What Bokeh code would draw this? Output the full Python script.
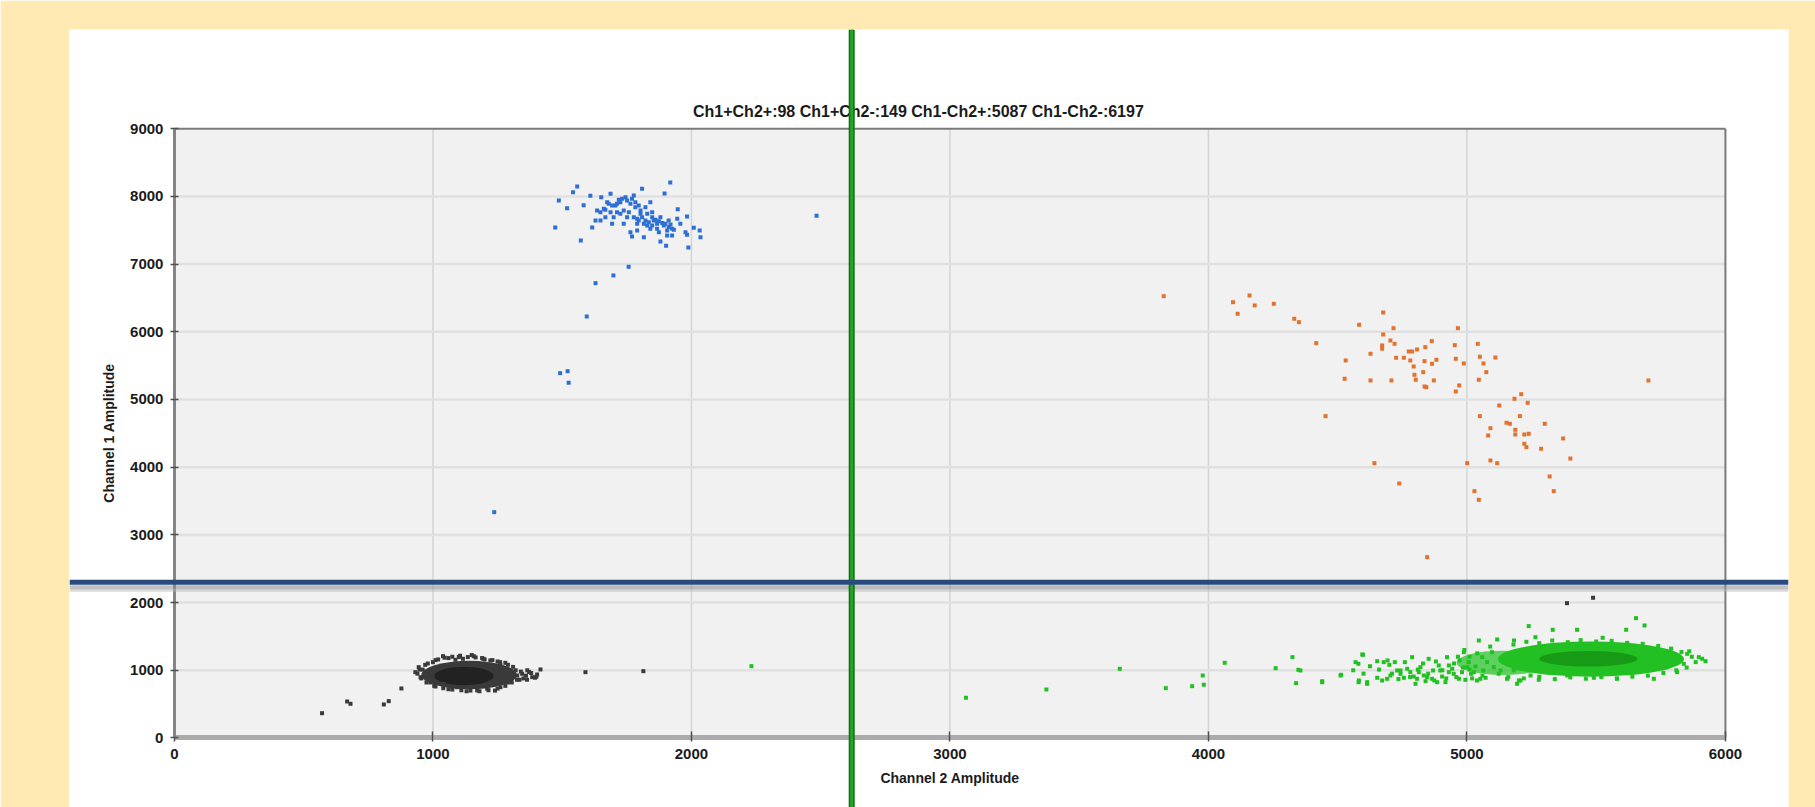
from bokeh.plotting import figure
from bokeh.models import LinearAxis, FixedTicker, Span, Label
from bokeh.embed import file_html
from bokeh.resources import INLINE

# ---------------- data ----------------
title_names = ["Ch1+Ch2+", "Ch1+Ch2-", "Ch1-Ch2+", "Ch1-Ch2-"]
title_counts = [98, 149, 5087, 6197]

x_ticks = [0, 1000, 2000, 3000, 4000, 5000, 6000]
y_ticks = [0, 1000, 2000, 3000, 4000, 5000, 6000, 7000, 8000, 9000]
x_limits = [0, 6000]
y_limits = [0, 9000]

ch1_threshold = 2300   # horizontal (Channel 1)
ch2_threshold = 2620   # vertical (Channel 2)

# Ch1+Ch2- (blue)
blue_ch2 = [1558, 1542, 1487, 1519, 1473, 1572, 1583, 1609, 1651, 1687, 1809, 1918, 1896, 1616, 1629,
            1635, 1693, 1706, 1725, 1745, 1777, 1764, 1783, 1725, 1751, 1790, 1764, 1770, 1790, 1816,
            1822, 1841, 1829, 1848, 1854, 1816, 1841, 1874, 1880, 1899, 1912, 1925, 1906, 1880, 1902,
            1947, 1983, 1945, 1957, 1977, 1983, 2009, 2032, 2035, 1988, 1757, 1698, 1629, 1595, 2484,
            1674, 1661, 1699, 1738, 1803, 1790, 1867, 1925,
            1648, 1667, 1680, 1693, 1712, 1719, 1732, 1751, 1770, 1783, 1796, 1803, 1809, 1822, 1835,
            1848, 1861, 1874, 1887, 1893, 1912, 1919, 1932, 1906, 1867, 1848, 1829, 1796, 1777, 1758,
            1738, 1712, 1687, 1667, 1648,
            1492, 1521, 1525, 1237]
blue_ch1 = [8146, 8062, 7939, 7826, 7541, 7349, 7870, 8009, 7988, 8038, 8112, 8205, 8043, 7541, 7644,
            7792, 7595, 7866, 7914, 7988, 8013, 7890, 7841, 7743, 7693, 7669, 7471, 7408, 7496, 7397,
            7841, 7914, 7743, 7767, 7644, 7595, 7521, 7471, 7693, 7595, 7644, 7521, 7422, 7334, 7270,
            7811, 7703, 7669, 7595, 7471, 7433, 7536, 7496, 7397, 7245, 6960, 6832, 6718, 6226, 7713,
            7914, 7817, 7693, 7595, 7743, 7595, 7595, 7422,
            7767, 7802, 7890, 7866, 7890, 7949, 7964, 7939, 7964, 7915, 7866, 7792, 7693, 7644, 7619,
            7693, 7654, 7634, 7605, 7570, 7546, 7585, 7506, 7496, 7521, 7570, 7570, 7644, 7693, 7767,
            7792, 7767, 7767, 7693, 7644,
            5389, 5418, 5247, 3336]

# Ch1+Ch2+ (orange)
orange_ch2 = [3827, 4095, 4113, 4159, 4179, 4253, 4332, 4350, 4676, 4583, 4716, 4676, 4417, 4672, 4672,
              4704, 4720, 4627, 4531, 4527, 4627, 4708, 4726, 4756, 4775, 4788, 4807, 4781, 4794, 4797,
              4802, 4836, 4831, 4839, 4864, 4836, 4843, 4872, 4865, 4882, 4953, 4965, 4957, 4988, 4970,
              4957, 5042, 5050, 5064, 5075, 5046, 5110, 5702, 5210, 5184, 5235, 5125, 5050, 5205, 5153,
              5166, 5091, 5082, 5187, 5187, 5222, 5239, 5301, 5372, 5222, 5230, 5287, 5400, 4453, 4642,
              5001, 5091, 5117, 4738, 5029, 5046, 5320, 5336, 4846]
orange_ch1 = [6526, 6437, 6266, 6536, 6389, 6413, 6192, 6142, 6285, 6103, 6053, 5960, 5832, 5798, 5749,
              5871, 5822, 5675, 5576, 5306, 5281, 5281, 5616, 5616, 5709, 5709, 5739, 5576, 5487, 5364,
              5291, 5566, 5404, 5773, 5862, 5192, 5182, 5281, 5527, 5586, 5802, 6053, 5601, 5532, 5207,
              5118, 5822, 5631, 5532, 5404, 5291, 5620, 5281, 5078, 5010, 4951, 4911, 4754, 4754, 4656,
              4641, 4576, 4468, 4552, 4483, 4483, 4493, 4641, 4424, 4346, 4296, 4272, 4128, 4754, 4059,
              4059, 4099, 4059, 3759, 3646, 3518, 3863, 3646, 2671]

# Ch1-Ch2- (black): individual droplets around the dense core
black_ch2 = [571, 668, 681, 810, 829, 878, 1590, 1814, 5387, 5488,
             1039, 1158, 1087, 1116, 1222, 1261, 1300, 1326, 1345, 1364, 1384, 1403, 1416, 1094, 1171,
             1210, 1261, 1042, 932, 945, 952, 1000, 1060, 1190, 1280, 1290, 1240, 1130, 1060, 990,
             970, 1320, 1350, 1200, 1010, 1310, 1335, 1372, 1395, 1280, 1250, 1150, 1100, 1020, 960,
             980, 1010, 1045, 1075, 1105, 1135, 1165, 1195, 1230, 1260, 1290,
             975, 1005, 1040, 1075, 1110, 1145, 1180, 1215, 1250, 1280, 1305, 1325,
             940, 948, 955, 1340, 1360, 1380, 1400, 1365]
black_ch1 = [366, 539, 505, 495, 544, 731, 972, 987, 1991, 2071,
             1208, 1208, 1155, 1170, 1145, 1071, 948, 923, 948, 860, 898, 938, 1012, 750, 702,
             727, 750, 800, 972, 1046, 898, 1120, 1180, 1180, 1020, 820, 700, 690, 720, 820,
             1080, 1000, 880, 1160, 760, 1050, 860, 975, 890, 1110, 1130, 1225, 1195, 1160, 1010,
             1100, 1150, 1185, 1200, 1215, 1195, 1190, 1170, 1150, 1120, 1080,
             820, 770, 735, 715, 705, 700, 690, 705, 730, 770, 820, 860,
             950, 1010, 880, 980, 920, 960, 905, 1000]
# dense core of the black cluster: centre, extent (data units)
black_core_ch2 = [1140, 1120]
black_core_ch1 = [930, 915]
black_core_w = [370, 230]
black_core_h = [420, 270]
black_core_color = ["#3A3A3A", "#222222"]

# Ch1-Ch2+ (green): individual droplets around the dense core
green_ch2 = [2232, 3062, 3373, 3657, 3835, 3937, 3978, 3982, 4063, 4260, 4325, 4348, 4339, 4440, 4513,
             4598, 4580, 4581, 4614, 4693,
             4356, 4440, 4511, 4569, 4595, 4582, 4614, 4653, 4678, 4721, 4691, 4730, 4743, 4781, 4788,
             4801, 4807, 4833, 4852, 4865, 4885, 4897, 4923, 4930, 4949, 4969, 4988, 5001, 5027, 5052,
             5078, 5046, 5117, 5130, 5201, 5194, 5278, 5239, 5332, 5426, 5525, 5616, 5654, 5687, 5620,
             5723, 5775, 5839, 5852, 5897, 5923, 5813, 5491, 5388, 5581, 5265, 5182,
             4653, 4672, 4704, 4743, 4756, 4769, 4794, 4814, 4820, 4840, 4846, 4869, 4874, 4891, 4904,
             4917, 4930, 4943, 4959, 4972, 4981, 4994, 5007, 5016, 5033, 5039, 5059, 5063, 5072, 5097,
             5104, 5123, 5143, 5155, 5175, 5181, 5207, 5226, 5246, 5259,
             5180, 5230, 5280, 5330, 5390, 5440, 5500, 5560, 5620, 5680, 5740, 5790, 5830,
             5160, 5220, 5280, 5340, 5400, 5460, 5520, 5580, 5640, 5700, 5760, 5810, 5850,
             5870, 5885, 5910, 5860, 4990, 5010, 5060, 5090, 5040,
             4560, 4600, 4625, 4660, 4700, 4710, 4735, 4760, 4780, 4810, 4830, 4850, 4880, 4905, 4920,
             4950, 4965, 4985, 5010, 5020]
green_ch1 = [1061, 594, 716, 1022, 736, 765, 923, 786, 1111, 1031, 1194, 1007, 809, 824, 933,
             1229, 1096, 824, 800, 1145,
             997, 839, 923, 1120, 1233, 849, 824, 1134, 1120, 1120, 874, 997, 948, 972, 1194,
             800, 874, 923, 1169, 874, 824, 997, 1194, 1071, 948, 874, 1268, 1046, 972, 874,
             1120, 1440, 1455, 997, 849, 800, 860, 1652, 1598, 1598, 1480, 1598, 1770, 1662, 1391,
             874, 1046, 1095, 1243, 1194, 1134, 972, 889, 923, 874, 1489, 1440,
             889, 849, 923, 997, 889, 1022, 908, 972, 1046, 839, 899, 997, 849, 1071, 908,
             825, 972, 1022, 899, 1145, 972, 859, 1120, 948, 1056, 849, 1194, 997, 889, 1268,
             1046, 948, 1169, 874, 1243, 997, 849, 1095, 923, 1268,
             1380, 1420, 1400, 1440, 1415, 1445, 1425, 1435, 1405, 1390, 1360, 1320, 1270,
             900, 880, 905, 870, 895, 875, 900, 880, 905, 920, 960, 1000, 1040,
             1200, 1120, 1170, 1280, 1300, 1010, 920, 1350, 1250,
             1000, 950, 1060, 1010, 1080, 950, 870, 1120, 900, 1010, 1100, 950, 1130, 1000, 880,
             1100, 1200, 1040, 1200, 880]
green_core_ch2 = [5140, 5480, 5470]
green_core_ch1 = [1110, 1165, 1170]
green_core_w = [360, 720, 380]
green_core_h = [360, 520, 230]
green_core_color = ["#2BC42B", "#22C022", "#179B17"]
green_core_alpha = [0.75, 1.0, 1.0]

# ---------------- figure ----------------
p = figure(width=1815, height=807, x_range=(-406, 6244), y_range=(-1027, 10465),
           x_axis_type=None, y_axis_type=None, toolbar_location=None, output_backend="svg",
           min_border_left=69, min_border_right=27, min_border_top=29, min_border_bottom=0)
p.outline_line_color = None
p.border_fill_color = "#FFEAB4"
p.background_fill_color = "white"
p.title.visible = False

FONT = "Liberation Sans"
TXT = "#1b1b1b"

# plot area
p.quad(left=[x_limits[0]], right=[x_limits[1]], bottom=[y_limits[0]], top=[y_limits[1]],
       fill_color="#F1F1F1", line_color=None)

# grid lines
gx = x_ticks[1:-1]
p.segment(x0=gx, y0=[y_limits[0]] * len(gx), x1=gx, y1=[y_limits[1]] * len(gx),
          line_color="#D4D4D4", line_width=1.5)
gy = y_ticks[1:-1]
p.segment(x0=[x_limits[0]] * len(gy), y0=gy, x1=[x_limits[1]] * len(gy), y1=gy,
          line_color="#E0E0E0", line_width=2.5)
# top / right frame
p.segment(x0=[x_limits[0], x_limits[1]], y0=[y_limits[1], y_limits[0]],
          x1=[x_limits[1], x_limits[1]], y1=[y_limits[1], y_limits[1]],
          line_color="#7A7A7A", line_width=2)

# dense cores
p.ellipse(x=black_core_ch2, y=black_core_ch1, width=black_core_w, height=black_core_h,
          fill_color=black_core_color, line_color=None)
p.ellipse(x=green_core_ch2, y=green_core_ch1, width=green_core_w, height=green_core_h,
          fill_color=green_core_color, fill_alpha=green_core_alpha, line_color=None)

# droplets
p.scatter(black_ch2, black_ch1, marker="square", size=4, fill_color="#3A3A3A", line_color=None)
p.scatter(green_ch2, green_ch1, marker="square", size=4, fill_color="#22C022", line_color=None)
p.scatter(blue_ch2, blue_ch1, marker="square", size=4, fill_color="#2E6FD6", line_color=None)
p.scatter(orange_ch2, orange_ch1, marker="square", size=4, fill_color="#E3732C", line_color=None)

# axes
yaxis = LinearAxis(fixed_location=0, bounds=(y_limits[0], y_limits[1]),
                   ticker=FixedTicker(ticks=y_ticks, minor_ticks=[]),
                   axis_label="Channel 1 Amplitude")
yaxis.axis_line_color = "#858585"
yaxis.axis_line_width = 3
yaxis.major_tick_line_color = "#505050"
yaxis.major_tick_line_width = 1.5
yaxis.major_tick_in = 4
yaxis.major_tick_out = 4
yaxis.major_label_standoff = 7
yaxis.major_label_text_font = FONT
yaxis.major_label_text_font_size = "15px"
yaxis.major_label_text_font_style = "bold"
yaxis.major_label_text_color = TXT
yaxis.axis_label_text_font = FONT
yaxis.axis_label_text_font_size = "14px"
yaxis.axis_label_text_font_style = "bold"
yaxis.axis_label_text_color = TXT
yaxis.axis_label_standoff = 10
p.add_layout(yaxis, "left")

xaxis = LinearAxis(fixed_location=0, bounds=(x_limits[0], x_limits[1]),
                   ticker=FixedTicker(ticks=x_ticks, minor_ticks=[]),
                   axis_label="Channel 2 Amplitude")
xaxis.axis_line_color = "#ABABAB"
xaxis.axis_line_width = 5
xaxis.major_tick_line_color = "#505050"
xaxis.major_tick_line_width = 1.5
xaxis.major_tick_in = 6
xaxis.major_tick_out = 4
xaxis.major_label_standoff = 7
xaxis.major_label_text_font = FONT
xaxis.major_label_text_font_size = "15px"
xaxis.major_label_text_font_style = "bold"
xaxis.major_label_text_color = TXT
xaxis.axis_label_text_font = FONT
xaxis.axis_label_text_font_size = "14px"
xaxis.axis_label_text_font_style = "bold"
xaxis.axis_label_text_color = TXT
xaxis.axis_label_standoff = 8
p.add_layout(xaxis, "below")

# title (counts)
title_text = " ".join(f"{n}:{c}" for n, c in zip(title_names, title_counts))
p.add_layout(Label(x=2878, y=9254, text=title_text, text_align="center", text_baseline="middle",
                   text_font=FONT, text_font_size="16px", text_font_style="bold", text_color=TXT))

# threshold lines
px_y = (10465 + 1027) / 778.0   # data units per pixel (vertical)
p.add_layout(Span(location=ch1_threshold - 5 * px_y, dimension="width", line_color="#8E8E8E",
                  line_alpha=0.55, line_width=4))
p.add_layout(Span(location=ch1_threshold - 8 * px_y, dimension="width", line_color="#B5B5B5",
                  line_alpha=0.5, line_width=3))
p.add_layout(Span(location=ch2_threshold, dimension="height", line_color="#127012", line_width=6))
p.add_layout(Span(location=ch2_threshold, dimension="height", line_color="#27A527", line_width=3))
p.add_layout(Span(location=ch1_threshold, dimension="width", line_color="#284A7C", line_width=5))

open("out.html", "w").write(file_html(p, INLINE))
